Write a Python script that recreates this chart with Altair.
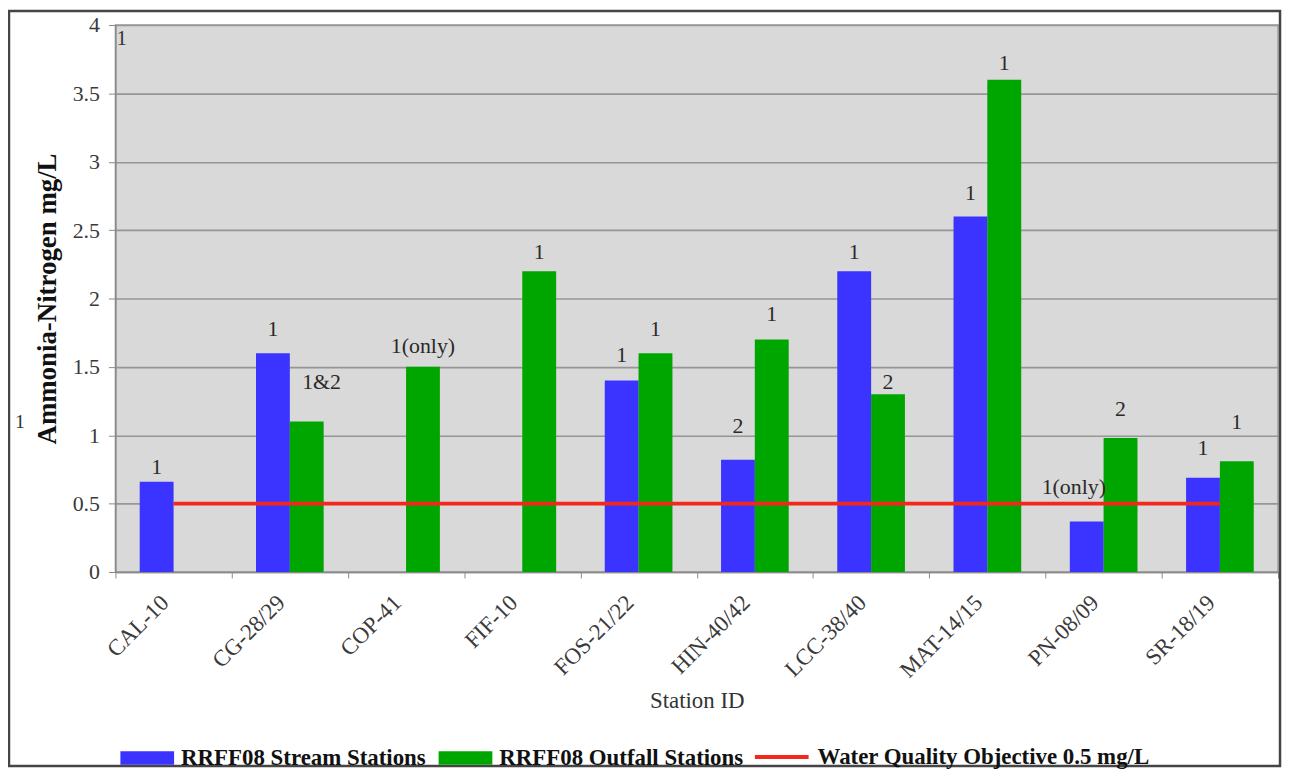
import altair as alt
import pandas as pd

stations = ["CAL-10", "CG-28/29", "COP-41", "FIF-10", "FOS-21/22",
            "HIN-40/42", "LCC-38/40", "MAT-14/15", "PN-08/09", "SR-18/19"]
stream_vals = [0.66, 1.6, None, None, 1.4, 0.82, 2.2, 2.6, 0.37, 0.69]
outfall_vals = [None, 1.1, 1.5, 2.2, 1.6, 1.7, 1.3, 3.6, 0.98, 0.81]
stream_notes = ["1", "1", "", "", "1", "2", "1", "1", "1(only)", "1"]
outfall_notes = ["", "1&2", "1(only)", "1", "1", "1", "2", "1", "2", "1"]
stream_note_at = [0.77, 1.78, None, None, 1.59, 1.07, 2.34, 2.77, 0.62, 0.91]
outfall_note_at = [None, 1.39, 1.65, 2.34, 1.78, 1.89, 1.39, 3.72, 1.19, 1.10]
objective = 0.5

S_STREAM = "RRFF08 Stream Stations"
S_OUT = "RRFF08 Outfall Stations"
S_WQO = "Water Quality Objective 0.5 mg/L"
bar_colors = ["#3b33ff", "#00a600"]
line_color = "#f2281c"

rows = []
for i, st in enumerate(stations):
    if stream_vals[i] is not None:
        rows.append({"station": st, "series": S_STREAM, "value": stream_vals[i],
                     "note": stream_notes[i], "note_at": stream_note_at[i]})
    if outfall_vals[i] is not None:
        rows.append({"station": st, "series": S_OUT, "value": outfall_vals[i],
                     "note": outfall_notes[i], "note_at": outfall_note_at[i]})
bars_df = pd.DataFrame(rows)
line_df = pd.DataFrame({"station": stations, "series": S_WQO, "value": [objective] * len(stations)})

SERIF = "Liberation Serif, Times New Roman, serif"

x_enc = alt.X("station:N", sort=stations,
              scale=alt.Scale(paddingInner=0, paddingOuter=0),
              axis=alt.Axis(title="Station ID", labelAngle=-45, labelAlign="right",
                            labelBaseline="middle", labelFont=SERIF, labelFontSize=23,
                            labelColor="#3a3a3a", labelPadding=21, labelOffset=-9,
                            tickBand="extent", tickSize=6, tickColor="#8a8a8a",
                            domainColor="#8a8a8a", domainWidth=1.5, grid=False,
                            titleFont=SERIF, titleFontSize=23, titleFontWeight="normal",
                            titleColor="#333333", titleY=129, titleBaseline="middle"))
xoff_enc = alt.XOffset("series:N", sort=[S_STREAM, S_OUT],
                       scale=alt.Scale(domain=[S_STREAM, S_OUT], paddingInner=0, paddingOuter=0.72))
y_scale = alt.Scale(domain=[0, 4], nice=False)
y_enc = alt.Y("value:Q", scale=y_scale,
              axis=alt.Axis(title="Ammonia-Nitrogen mg/L",
                            values=[0, 0.5, 1, 1.5, 2, 2.5, 3, 3.5, 4], format="~g",
                            labelFont=SERIF, labelFontSize=22, labelColor="#3a3a3a",
                            labelPadding=9, tickSize=7, tickColor="#8a8a8a",
                            domainColor="#8a8a8a", domainWidth=1.5,
                            gridColor="#969696", gridWidth=1.6,
                            titleFont=SERIF, titleFontSize=27, titleFontWeight="bold",
                            titleColor="#111111", titleX=-68, titleY=275,
                            titleAngle=-90, titleBaseline="middle", titleAlign="center"))

legend_common = dict(orient="none", direction="horizontal", title=None, padding=0,
                     labelFont=SERIF, labelFontWeight="bold", labelFontSize=23,
                     labelColor="#111111", labelOffset=7, columnPadding=12, symbolSize=2916,
                     labelLimit=1000)

fill_enc = alt.Fill("series:N",
                    scale=alt.Scale(domain=[S_STREAM, S_OUT], range=bar_colors),
                    legend=alt.Legend(legendX=5, legendY=710, symbolType="M-1,-0.25H1V0.25H-1Z",
                                      symbolStrokeWidth=0, symbolOpacity=1, **legend_common))
stroke_enc = alt.Stroke("series:N",
                        scale=alt.Scale(domain=[S_WQO], range=[line_color]),
                        legend=alt.Legend(legendX=641, legendY=707, symbolType="M-1,0H1",
                                          symbolStrokeWidth=4, symbolOpacity=1, **legend_common))

base = alt.Chart(bars_df)

shadow = base.mark_bar(color="#a0a0a0", opacity=0.6, xOffset=4, yOffset=3, clip=True).encode(
    x=x_enc, xOffset=xoff_enc, y=y_enc)

bars = base.mark_bar(opacity=1).encode(x=x_enc, xOffset=xoff_enc, y=y_enc, fill=fill_enc)

wqo_line = alt.Chart(line_df).mark_line(strokeWidth=4).encode(
    x=x_enc, y=y_enc, stroke=stroke_enc)

text_style = dict(font=SERIF, fontSize=22, color="#2a2a2a", baseline="middle", align="center")
notes_main = base.transform_filter(
    "datum.note != '' && datum.note != '1&2' && !(datum.note == '1(only)' && datum.series == '" + S_STREAM + "')"
).mark_text(**text_style).encode(
    x=x_enc, xOffset=xoff_enc, y=alt.Y("note_at:Q", scale=y_scale), text="note:N")
notes_right = base.transform_filter("datum.note == '1&2'").mark_text(dx=15, **text_style).encode(
    x=x_enc, xOffset=xoff_enc, y=alt.Y("note_at:Q", scale=y_scale), text="note:N")
notes_left = base.transform_filter(
    "datum.note == '1(only)' && datum.series == '" + S_STREAM + "'"
).mark_text(dx=-13, **text_style).encode(
    x=x_enc, xOffset=xoff_enc, y=alt.Y("note_at:Q", scale=y_scale), text="note:N")

stray_df = pd.DataFrame({"t": ["1"]})
stray1 = alt.Chart(stray_df).mark_text(font=SERIF, fontSize=21, color="#333333",
                                       align="left", baseline="middle").encode(
    x=alt.value(1), y=alt.value(14), text="t:N")
stray2 = alt.Chart(stray_df).mark_text(font=SERIF, fontSize=20, color="#333333",
                                       align="center", baseline="middle").encode(
    x=alt.value(-96), y=alt.value(399), text="t:N")

frame = alt.Chart(stray_df).mark_rect(filled=False, stroke="#454545", strokeWidth=2.5, clip=False).encode(
    x=alt.value(-107), x2=alt.value(1171), y=alt.value(-14), y2=alt.value(745))

chart = alt.layer(shadow, bars, wqo_line, notes_main, notes_right, notes_left,
                  stray1, stray2, frame).resolve_scale(
    fill="independent", stroke="independent"
).properties(
    width=1169, height=550,
    autosize=alt.AutoSizeParams(type="none"),
    padding={"left": 108, "top": 15, "right": 5, "bottom": 197},
    background="white",
).configure_view(fill="#d9d9d9", stroke="#9a9a9a", strokeWidth=1.5)

chart.save("out.html", embed_options={"renderer": "svg", "actions": False})
